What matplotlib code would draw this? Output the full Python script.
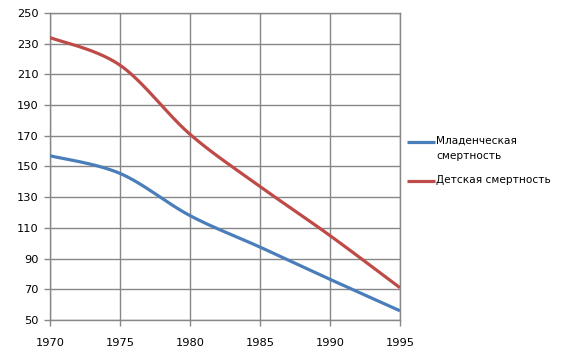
import numpy as np
import matplotlib
matplotlib.use("Agg")
import matplotlib.pyplot as plt
from matplotlib.lines import Line2D

years = [1970, 1975, 1980, 1985, 1990, 1995]
infant = [157, 145.5, 118, 97.5, 76.5, 56]
child = [234, 216, 171, 137, 105, 71]
labels = ["Младенческая\nсмертность", "Детская смертность"]
yticks = list(range(50, 251, 20))
colors = ["#4A7EBB", "#BE4B48"]

W, H = 565, 358


def smooth(x, y, n=40):
    x = np.asarray(x, float)
    y = np.asarray(y, float)
    px = np.concatenate([[x[0]], x, [x[-1]]])
    py = np.concatenate([[y[0]], y, [y[-1]]])
    xs, ys = [], []
    for i in range(len(x) - 1):
        p0 = np.array([px[i], py[i]])
        p1 = np.array([px[i + 1], py[i + 1]])
        p2 = np.array([px[i + 2], py[i + 2]])
        p3 = np.array([px[i + 3], py[i + 3]])
        c1 = p1 + (p2 - p0) / 6
        c2 = p2 - (p3 - p1) / 6
        t = np.linspace(0, 1, n)[:, None]
        b = ((1 - t) ** 3) * p1 + 3 * ((1 - t) ** 2) * t * c1 + 3 * (1 - t) * t ** 2 * c2 + t ** 3 * p2
        xs.append(b[:, 0])
        ys.append(b[:, 1])
    return np.concatenate(xs), np.concatenate(ys)


fig = plt.figure(figsize=(W / 100, H / 100), dpi=100)
ax = fig.add_axes([50 / W, 1 - 320 / H, 350 / W, 307 / H])

grid_c = "#878787"
for sy, col in [(infant, colors[0]), (child, colors[1])]:
    xx, yy = smooth(years, sy)
    ax.plot(xx, yy, color=col, lw=2.3, solid_capstyle="butt", zorder=3)

ax.set_xlim(1970, 1995)
ax.set_ylim(50, 250)
ax.set_xticks(years)
ax.set_yticks(yticks)
ax.grid(True, color=grid_c, lw=1)
for s in ax.spines.values():
    s.set_color(grid_c)
    s.set_linewidth(1)
ax.tick_params(axis="both", colors=grid_c, labelcolor="black", labelsize=8.2, length=4, width=1)
ax.tick_params(axis="x", pad=9)
ax.tick_params(axis="y", pad=4)

# legend drawn manually (first entry aligned with its first text line)
legend_y = [142, 181]
for lab, col, py in zip(labels, colors, legend_y):
    yf = 1 - py / H
    fig.add_artist(Line2D([407 / W, 435 / W], [yf, yf], color=col, lw=2.3,
                          transform=fig.transFigure, solid_capstyle="butt"))
    fig.text(436 / W, yf + 6.5 / H, lab, fontsize=7.6, va="top", ha="left",
             linespacing=1.75, transform=fig.transFigure)

fig.savefig("out.png", dpi=100)
